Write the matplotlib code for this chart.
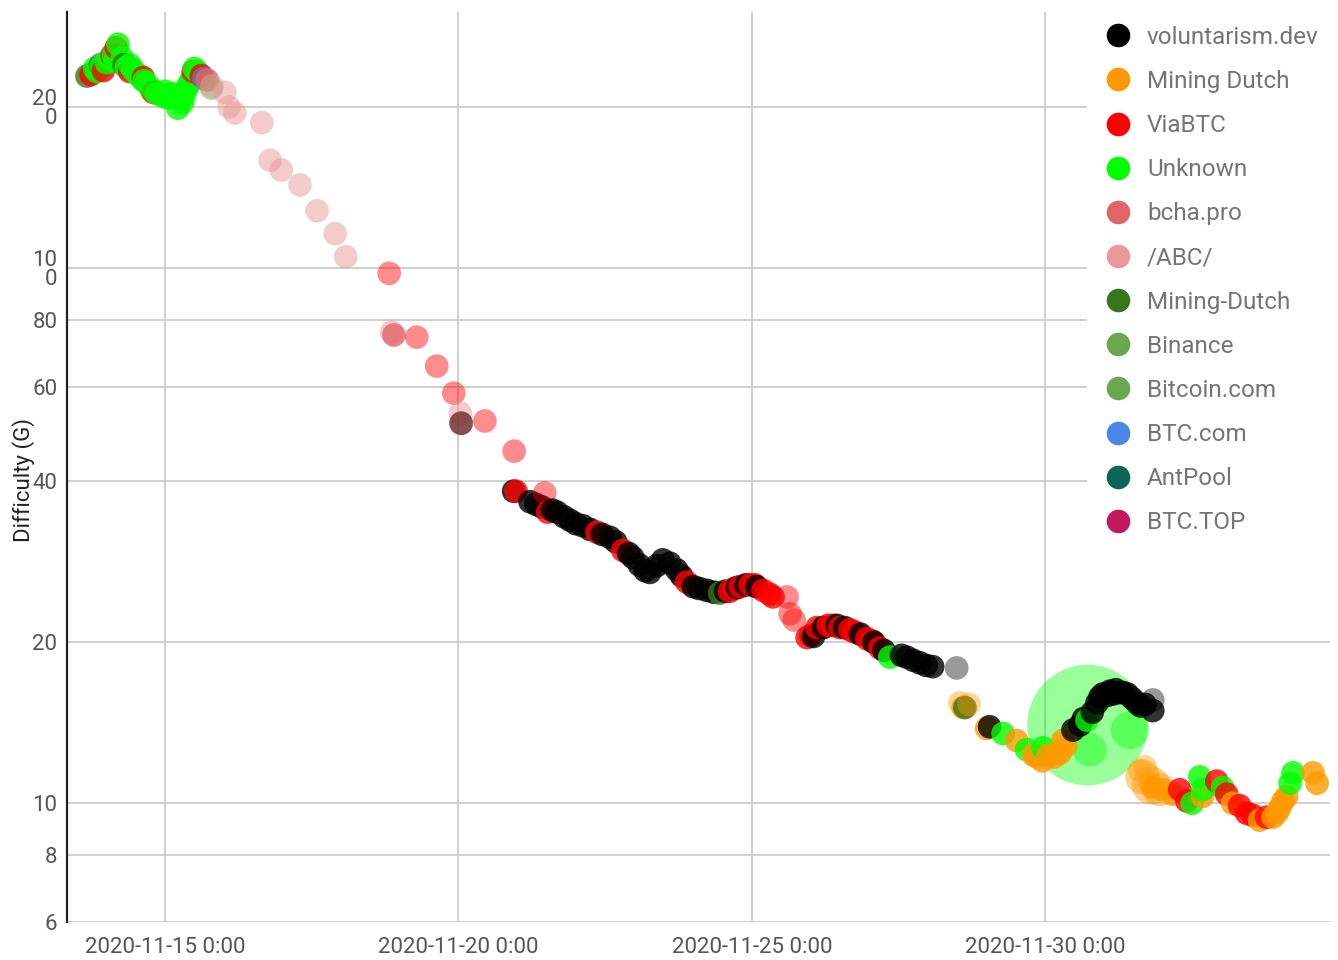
import matplotlib
matplotlib.use("Agg")
import matplotlib.pyplot as plt
import matplotlib.dates as mdates
from matplotlib.colors import to_rgba
from matplotlib.lines import Line2D
from matplotlib.patches import Rectangle
from matplotlib.ticker import FixedLocator, FixedFormatter, NullLocator
import numpy as np
import pandas as pd

plt.rcParams["font.family"] = ["Roboto", "DejaVu Sans"]

# day numbers count from 2020-10-31 (15 -> Nov 15 0:00, 31 -> Dec 1 0:00)
BASE = pd.Timestamp("2020-10-31")

# ---- values: day number, difficulty (G)
VOL_DAYS = [20.94, 21.22, 21.32, 21.42, 21.60, 21.68, 21.80, 21.90, 22.00, 22.12, 22.24, 22.45,
            22.58, 22.68, 22.90, 22.97, 23.08, 23.18, 23.26, 23.38, 23.48, 23.60, 23.72, 23.80,
            24.00, 24.10, 24.23, 24.35, 24.55, 24.75, 24.90, 25.08, 26.05, 26.22, 26.45, 26.58,
            26.85, 27.08, 27.25, 27.55, 27.64, 27.75, 27.86, 27.97, 28.08,
            29.05, 30.47, 30.59, 30.65, 30.80, 30.88, 30.93, 30.98, 31.05, 31.10, 31.15, 31.20,
            31.27, 31.33, 31.40, 31.48, 31.56, 31.62, 31.70, 31.83]
VOL_DIFF = [38.3, 36.6, 36.2, 35.8, 35.3, 35.0, 34.3, 33.8, 33.3, 33.0, 32.5, 31.8,
            31.4, 30.8, 29.3, 28.8, 27.9, 27.2, 27.0, 27.8, 28.5, 28.1, 27.3, 26.6,
            25.4, 25.2, 25.0, 24.8, 24.9, 25.3, 25.6, 25.4, 20.5, 21.3, 21.5, 21.3,
            20.7, 20.0, 19.3, 18.9, 18.75, 18.5, 18.3, 18.1, 18.0,
            13.9, 13.7, 14.0, 14.4, 14.8, 15.4, 15.8, 16.0, 15.9, 16.2, 16.0, 16.3,
            16.1, 16.1, 16.0, 15.7, 15.4, 15.2, 15.3, 14.9]
VOL_FAINT_DAYS = [20.05, 28.49, 31.83]
VOL_FAINT_DIFF = [51.3, 17.9, 15.6]

MD_DAYS = [28.60, 29.00, 29.51, 29.80, 29.86, 29.95, 30.05, 30.15, 30.25, 30.30, 30.35, 31.83,
           32.00, 32.17, 32.68, 33.19, 33.65, 33.88, 33.95, 34.00, 34.05, 34.11, 34.56, 34.63]
MD_DIFF = [15.1, 13.8, 13.1, 12.3, 12.2, 12.0, 12.3, 12.2, 12.4, 13.1, 12.8, 10.7,
           10.6, 10.4, 10.3, 10.0, 9.30, 9.42, 9.6, 9.83, 10.1, 10.3, 11.4, 10.9]
MD_FAINT_DAYS = [28.54, 28.70, 31.61, 31.70, 31.78]
MD_FAINT_DIFF = [15.4, 15.3, 11.5, 11.7, 10.9]
# oversized pale "Mining Dutch" bubbles (size relative to a normal point)
MD_BIG_DAYS = [31.66, 31.80, 31.95]
MD_BIG_DIFF = [11.2, 10.8, 10.6]
MD_BIG_SIZE = [2.2, 2.6, 2.0]

VIA_DAYS = [13.74, 13.95, 14.10, 14.17, 14.40, 14.63, 14.80, 15.48, 15.62,
            20.98, 21.52, 22.36, 22.80, 23.89, 24.62, 24.70, 24.80, 24.97, 25.05, 25.19, 25.30,
            25.36, 25.94, 26.00, 26.11, 26.30, 26.38, 26.50, 26.67, 26.75, 26.96, 27.05, 27.18,
            32.29, 32.41, 32.92, 33.09, 33.31, 33.43, 33.53, 33.77]
VIA_DIFF = [230, 234, 250, 258, 233, 227, 213, 233, 229,
            38.3, 35.0, 32.1, 29.7, 25.9, 24.9, 25.2, 25.4, 25.6, 25.6, 25.0, 24.6,
            24.3, 20.4, 20.6, 21.3, 21.5, 21.5, 21.3, 21.1, 20.9, 20.3, 20.1, 19.5,
            10.6, 10.1, 11.0, 10.4, 9.9, 9.58, 9.5, 9.42]
VIA_FAINT_DAYS = [18.82, 19.29, 19.63, 19.92, 20.45, 20.95, 21.47, 25.60, 25.65, 25.72]
VIA_FAINT_DIFF = [97.8, 74.3, 65.6, 58.4, 51.8, 45.5, 38.0, 24.3, 22.6, 22.0]

UNK_DAYS = [13.80, 13.84, 13.92, 14.00, 14.06, 14.12, 14.15, 14.20, 14.27, 14.34, 14.40, 14.45,
            14.52, 14.60, 14.64, 14.68, 14.76, 14.80, 14.86, 14.95, 15.00, 15.04, 15.12, 15.22,
            15.26, 15.30, 15.34, 15.38, 15.42, 15.46, 15.50, 15.55,
            27.35, 29.28, 29.68, 29.96, 30.71, 32.50, 32.63, 32.68, 33.02, 34.17, 34.22]
UNK_DIFF = [236, 233, 238, 242, 246, 250, 244, 262, 247, 237, 240, 235,
            231, 226, 224, 222, 216, 215, 212, 210, 214, 208, 212, 199,
            207, 204, 212, 218, 222, 226, 236, 233,
            18.75, 13.5, 12.6, 12.7, 14.3, 10.0, 11.2, 10.6, 10.7, 10.9, 11.4]
# oversized "Unknown" bubbles (size relative to a normal point)
UNK_BIG_DAYS = [30.72, 30.76, 31.44]
UNK_BIG_DIFF = [14.0, 12.6, 13.7]
UNK_BIG_SIZE = [26, 2.0, 2.6]

BCHA_DAYS = [15.72, 18.90, 20.04]
BCHA_DIFF = [224.6, 75.0, 51.3]
ABC_DAYS = [15.80, 16.02, 16.09, 16.19, 16.65, 16.79, 16.98, 17.30, 17.59, 17.90, 18.08, 18.86, 20.03]
ABC_DIFF = [219, 213, 200, 195, 187, 159, 152.5, 143, 128, 116, 105, 76, 53.6]
MDASH_DAYS = [13.67, 14.30, 24.45, 28.63]
MDASH_DIFF = [228.5, 240, 24.7, 15.1]
BIN_DAYS = [15.79]
BIN_DIFF = [217]
BTCCOM_DAYS = [15.66]
BTCCOM_DIFF = [226]
ANT_DAYS = [13.90]
ANT_DIFF = [240]

POOLS = ["voluntarism.dev", "Mining Dutch", "ViaBTC", "Unknown", "bcha.pro", "/ABC/",
         "Mining-Dutch", "Binance", "Bitcoin.com", "BTC.com", "AntPool", "BTC.TOP"]
COLORS = ["#000000", "#ff9900", "#ff0000", "#00ff00", "#e06666", "#ea9999",
          "#38761d", "#6aa84f", "#6aa84f", "#4a86e8", "#0b6655", "#c2185b"]
color_of = dict(zip(POOLS, COLORS))

groups = [
    ("voluntarism.dev", VOL_DAYS, VOL_DIFF, 0.8),
    ("voluntarism.dev", VOL_FAINT_DAYS, VOL_FAINT_DIFF, 0.4),
    ("Mining Dutch", MD_DAYS, MD_DIFF, 0.8),
    ("Mining Dutch", MD_FAINT_DAYS, MD_FAINT_DIFF, 0.4),
    ("ViaBTC", VIA_DAYS, VIA_DIFF, 0.8),
    ("ViaBTC", VIA_FAINT_DAYS, VIA_FAINT_DIFF, 0.45),
    ("Unknown", UNK_DAYS, UNK_DIFF, 0.8),
    ("bcha.pro", BCHA_DAYS, BCHA_DIFF, 0.8),
    ("/ABC/", ABC_DAYS, ABC_DIFF, 0.5),
    ("Mining-Dutch", MDASH_DAYS, MDASH_DIFF, 0.8),
    ("Binance", BIN_DAYS, BIN_DIFF, 0.5),
    ("BTC.com", BTCCOM_DAYS, BTCCOM_DIFF, 0.6),
    ("AntPool", ANT_DAYS, ANT_DIFF, 0.6),
]
rows = []
for pool, days, diff, alpha in groups:
    for d, g in zip(days, diff):
        rows.append((d, g, to_rgba(color_of[pool], alpha)))
df = pd.DataFrame(rows, columns=["day", "diff", "rgba"]).sort_values("day", kind="stable")
df["t"] = BASE + pd.to_timedelta(df["day"], unit="D")

fig = plt.figure(figsize=(13.38, 9.6), dpi=100)
ax = fig.add_axes([67 / 1338, 38 / 960, 1263 / 1338, 910 / 960])

S = 290
to_t = lambda days: BASE + pd.to_timedelta(np.array(days), unit="D")
ax.scatter(to_t(UNK_BIG_DAYS), UNK_BIG_DIFF, s=S * np.array(UNK_BIG_SIZE), color="#00ff00",
           alpha=0.4, linewidths=0, zorder=2)
ax.scatter(to_t(MD_BIG_DAYS), MD_BIG_DIFF, s=S * np.array(MD_BIG_SIZE), color="#ff9900",
           alpha=0.45, linewidths=0, zorder=2)
ax.scatter(df["t"], df["diff"], s=S, c=list(df["rgba"]), linewidths=0, zorder=3)

ax.set_yscale("log")
ax.set_ylim(6, 301)
ax.set_xlim(BASE + pd.Timedelta(days=13.33), BASE + pd.Timedelta(days=34.85))

YT = [6, 8, 10, 20, 40, 60, 80, 100, 200]
YT_LABELS = ["6", "8", "10", "20", "40", "60", "80", "10\n0", "20\n0"]
ax.yaxis.set_major_locator(FixedLocator(YT))
ax.yaxis.set_major_formatter(FixedFormatter(YT_LABELS))
ax.yaxis.set_minor_locator(NullLocator())
for lab in ax.get_yticklabels():
    lab.set_linespacing(0.9)

XT = [pd.Timestamp(s) for s in ["2020-11-15", "2020-11-20", "2020-11-25", "2020-11-30"]]
ax.set_xticks([mdates.date2num(t) for t in XT])
ax.set_xticklabels([t.strftime("%Y-%m-%d") + " 0:00" for t in XT])
ax.xaxis.set_minor_locator(NullLocator())

ax.tick_params(axis="both", length=0, labelsize=16, labelcolor="#555555")
ax.tick_params(axis="y", pad=7)
ax.tick_params(axis="x", pad=11)
ax.grid(True, color="#cccccc", lw=1.3)
ax.set_axisbelow(True)
for side in ["top", "right", "bottom"]:
    ax.spines[side].set_visible(False)
ax.spines["left"].set_color("#222222")
ax.spines["left"].set_linewidth(1.6)

ax.set_ylabel("Difficulty (G)", fontsize=16, color="#222222")
ax.yaxis.set_label_coords(-0.025, 0.486)

# white panel behind the legend (hides the grid there, like the original)
ax.add_patch(Rectangle((1087 / 1338, 1 - 545 / 960), 243 / 1338, 533 / 960,
                       transform=fig.transFigure, facecolor="white", edgecolor="none",
                       zorder=4, clip_on=False))
handles = [Line2D([], [], marker="o", ls="", markersize=17, markerfacecolor=c,
                  markeredgewidth=0) for c in COLORS]
leg = ax.legend(handles, POOLS, loc="upper left", bbox_to_anchor=(1096 / 1338, 1 - 16 / 960),
                bbox_transform=fig.transFigure, frameon=False, fontsize=17.5, labelspacing=0.87,
                handletextpad=0.7, borderpad=0.4, borderaxespad=0, handlelength=1.0)
for t in leg.get_texts():
    t.set_color("#757575")
leg.set_zorder(5)

fig.savefig("out.png", dpi=100)
